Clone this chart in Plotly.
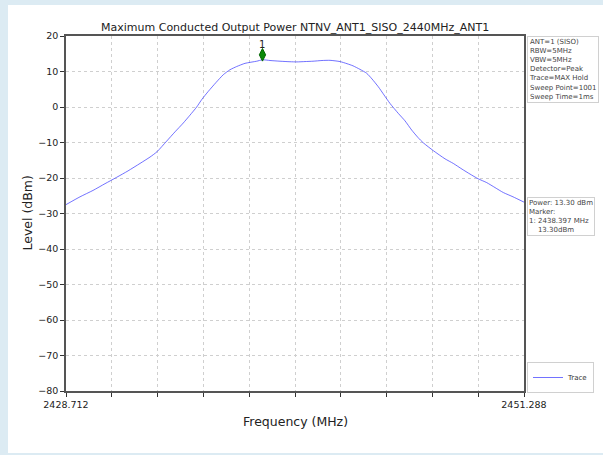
import plotly.graph_objects as go

# ---- data ----
freq_mhz = [2428.712, 2429.402, 2430.043, 2430.635, 2431.211, 2431.768, 2432.360, 2432.853,
            2433.198, 2433.676, 2434.085, 2434.494, 2434.824, 2435.154, 2435.416, 2435.726,
            2436.106, 2436.466, 2436.796, 2437.126, 2437.536, 2438.112, 2438.397, 2438.768,
            2439.261, 2439.754, 2440.099, 2440.493, 2440.888, 2441.331, 2441.725, 2442.218,
            2442.563, 2442.859, 2443.204, 2443.534, 2443.796, 2444.106, 2444.387, 2444.683,
            2445.092, 2445.422, 2445.753, 2446.063, 2446.325, 2446.818, 2447.395, 2447.804,
            2448.233, 2448.627, 2449.022, 2449.451, 2449.860, 2450.269, 2450.747, 2451.288]
level_dbm = [-27.5, -25.3, -23.5, -21.6, -19.8, -18.0, -15.9, -14.1,
             -12.6, -9.6, -7.0, -4.5, -2.3, 0.0, 2.2, 4.4,
             6.9, 9.1, 10.5, 11.4, 12.3, 12.9, 13.3, 13.1,
             12.9, 12.75, 12.7, 12.8, 12.9, 13.1, 13.15, 12.8,
             12.2, 11.6, 10.6, 9.5, 7.9, 5.7, 3.4, 1.0,
             -1.8, -3.9, -6.5, -8.6, -10.1, -12.3, -14.6, -15.9,
             -17.5, -18.9, -20.2, -21.3, -22.7, -24.1, -25.3, -26.8]

marker_freq = 2438.397
marker_level = 13.30
marker_label = "1"

x_min, x_max = 2428.712, 2451.288
y_ticks = [20, 10, 0, -10, -20, -30, -40, -50, -60, -70, -80]
x_tick_labels = ["2428.712", "", "", "", "", "", "", "", "", "", "2451.288"]

title_text = "Maximum Conducted Output Power NTNV_ANT1_SISO_2440MHz_ANT1"
settings_lines = ["ANT=1 (SISO)", "RBW=5MHz", "VBW=5MHz", "Detector=Peak",
                  "Trace=MAX Hold", "Sweep Point=1001", "Sweep Time=1ms"]
power_lines = ["Power: 13.30 dBm", "Marker:", "1: 2438.397 MHz", "&nbsp;&nbsp;&nbsp;&nbsp;13.30dBm"]

# ---- figure ----
W, H = 603, 455
L, R, T, B = 66, 79, 36, 64
pw, ph = W - L - R, H - T - B

def px_x(p):
    return (p - L) / pw

def px_y(p):
    return (H - B - p) / ph

FONT = "DejaVu Sans"
BG = "#dcebf3"
fig = go.Figure()

fig.add_trace(go.Scatter(
    x=freq_mhz, y=level_dbm, mode="lines", name="Trace",
    line=dict(color="rgba(60,60,255,0.72)", width=1, shape="spline", smoothing=0.6),
    showlegend=True,
))

fig.add_trace(go.Scatter(
    x=[marker_freq], y=[marker_level + 1.4], mode="markers", showlegend=False,
    marker=dict(symbol="diamond-tall", color="#0a8a0a", size=9,
                line=dict(color="#006400", width=1)),
))

step = (x_max - x_min) / 10
x_tickvals = [x_min + i * step for i in range(11)]

fig.update_layout(
    width=W, height=H,
    margin=dict(l=L, r=R, t=T, b=B, autoexpand=False),
    paper_bgcolor=BG,
    plot_bgcolor="white",
    font=dict(family=FONT, color="#222"),
    showlegend=True,
    legend=dict(x=px_x(527), y=px_y(393), xanchor="left", yanchor="bottom",
                bgcolor="white", bordercolor="#d0d0d0", borderwidth=1,
                font=dict(size=7, family=FONT, color="#333"),
                itemwidth=30, tracegroupgap=0),
    xaxis=dict(range=[x_min, x_max], tickvals=x_tickvals, ticktext=x_tick_labels,
               ticks="outside", ticklen=4, tickcolor="#333", tickwidth=1,
               showgrid=True, gridcolor="#cfcfcf", griddash="dot", gridwidth=1,
               showline=True, linecolor="#555", linewidth=1.5, mirror=True,
               zeroline=False, tickfont=dict(size=9.5, family=FONT, color="#222")),
    yaxis=dict(range=[-80, 20], tickvals=y_ticks,
               ticks="outside", ticklen=4, tickcolor="#333", tickwidth=1,
               showgrid=True, gridcolor="#cfcfcf", griddash="dot", gridwidth=1,
               showline=True, linecolor="#555", linewidth=1.5, mirror=True,
               zeroline=False, tickfont=dict(size=9.5, family=FONT, color="#222")),
    shapes=[dict(type="rect", xref="paper", yref="paper", layer="below",
                 x0=px_x(8), x1=px_x(603), y0=px_y(453), y1=px_y(5),
                 fillcolor="white", line=dict(width=0))],
    annotations=[
        dict(text=title_text, xref="paper", yref="paper", x=0.5, y=1, yshift=0,
             xanchor="center", yanchor="bottom", showarrow=False,
             font=dict(size=11, family=FONT, color="#222")),
        dict(text="Frequency (MHz)", xref="paper", yref="paper", x=0.5, y=0, yshift=-21,
             xanchor="center", yanchor="top", showarrow=False,
             font=dict(size=12.5, family=FONT, color="#222")),
        dict(text="Level (dBm)", xref="paper", yref="paper", x=0, y=0.5, xshift=-39,
             xanchor="center", yanchor="middle", textangle=-90, showarrow=False,
             font=dict(size=12.5, family=FONT, color="#222")),
        dict(text=marker_label, x=marker_freq, y=marker_level + 1.4, xref="x", yref="y",
             yshift=10, showarrow=False, font=dict(size=10, family=FONT, color="#222")),
        dict(text="<br>".join(settings_lines), xref="paper", yref="paper",
             x=px_x(527), y=px_y(36), xanchor="left", yanchor="top", align="left",
             showarrow=False, bgcolor="white", bordercolor="#d0d0d0", borderwidth=1,
             borderpad=1, font=dict(size=7, family=FONT, color="#444")),
        dict(text="<br>".join(power_lines), xref="paper", yref="paper",
             x=px_x(527), y=px_y(197), xanchor="left", yanchor="top", align="left",
             showarrow=False, bgcolor="white", bordercolor="#d0d0d0", borderwidth=1,
             borderpad=1, font=dict(size=7, family=FONT, color="#444")),
    ],
)

fig.write_html(
    "out.html",
    config={"displayModeBar": False},
    post_script=("document.body.style.margin='0';document.body.style.padding='0';"
                 "document.body.style.overflow='hidden';"
                 "document.body.style.background='" + BG + "';"),
)
